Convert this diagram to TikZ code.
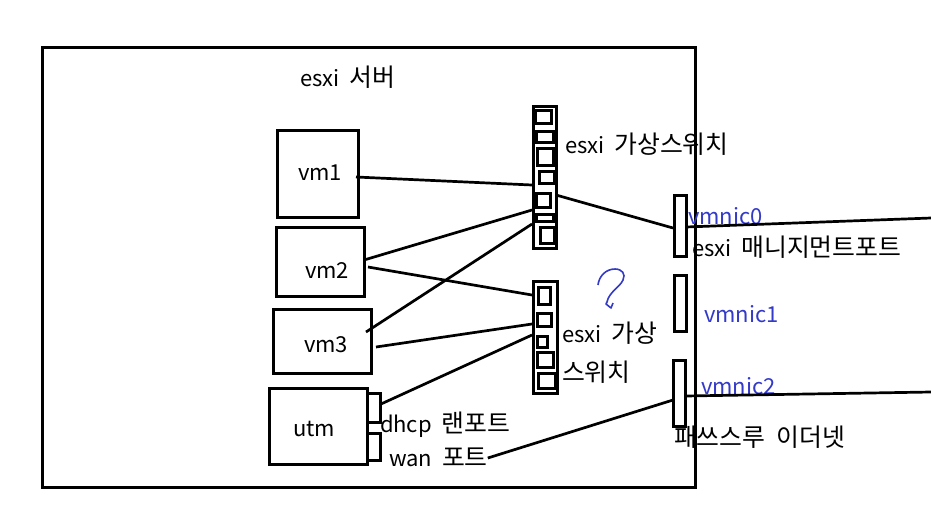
\documentclass[tikz,border=0pt]{standalone}
\usepackage{fontspec}
\setmainfont[WordSpace=2]{Noto Sans CJK KR}
\newfontfamily\kofont[Scale=1.13,WordSpace=2]{Noto Sans CJK KR}
\newcommand{\KO}[1]{{\kofont #1}}
\usetikzlibrary{calc}
\definecolor{nicblue}{RGB}{52,58,200}
\tikzset{
  x=1pt,y=-1pt,
  hbox/.style={draw=black,line width=3pt,outer sep=0pt},
  link/.style={draw=black,line width=2.7pt},
  lbl/.style={anchor=west,inner sep=0pt,outer sep=0pt,font=\fontsize{22}{24}\selectfont,text height=19pt,text depth=2pt,text=black},
  nic/.style={lbl,text=nicblue},
}
\newcommand{\pbox}[5]{\node[hbox,inner sep=0pt,minimum width={(#4-#2)*1pt},minimum height={(#5-#3)*1pt},anchor=north west] (#1) at (#2,#3) {};}
\begin{document}
\begin{tikzpicture}
\useasboundingbox (0,0) rectangle (931,515);
\fill[white] (0,0) rectangle (931,515);
% server frame
\pbox{server}{42}{47}{695}{487}
% vms
\pbox{vmone}{277}{130}{358}{217}
\pbox{vmtwo}{276}{227}{364}{296}
\pbox{vmthree}{273}{309}{371}{373}
\pbox{utm}{269}{388}{367}{464}
\pbox{lanport}{367}{393}{380}{422}
\pbox{wanport}{367}{433}{380}{460}
% switch 1
\pbox{swa}{533}{106}{556}{248}
\pbox{a1}{535}{110}{551}{123}
\pbox{a2}{536}{131}{553}{142}
\pbox{a3}{537}{148}{553}{165}
\pbox{a4}{539}{171}{554}{183}
\pbox{a5}{536}{193}{550}{207}
\pbox{a6}{536}{214}{553}{221}
\pbox{a7}{540}{227}{554}{243}
% switch 2
\pbox{swb}{533}{281}{557}{393}
\pbox{b1}{538}{287}{550}{304}
\pbox{b2}{537}{313}{551}{326}
\pbox{b3}{537}{336}{547}{347}
\pbox{b4}{537}{352}{553}{367}
\pbox{b5}{538}{373}{555}{388}
% nics
\pbox{nica}{674}{195}{686}{256}
\pbox{nicb}{674}{275}{686}{331}
\pbox{nicc}{673}{360}{685}{426}
% free ends
\coordinate (outa) at (931,218);
\coordinate (outc) at (931,392);
% labels
\node[lbl] (tserver) at (300,78) {esxi \KO{서버}};
\node[lbl] (tswa) at (565,145) {esxi \KO{가상스위치}};
\node[lbl] (tvma) at (298,172) {vm1};
\node[lbl] (tvmb) at (305,270) {vm2};
\node[lbl] (tvmc) at (304,344) {vm3};
\node[lbl] (tutm) at (293,428) {utm};
\node[lbl] (tlan) at (380,424) {dhcp \KO{랜포트}};
\node[lbl] (twan) at (389,458) {wan \KO{포트}};
\node[lbl] (tmgmt) at (692,248) {esxi \KO{매니지먼트포트}};
\node[nic] (tnica) at (688,216) {vmnic0};
\node[nic] (tnicb) at (704,314) {vmnic1};
\node[nic] (tnicc) at (701,386) {vmnic2};
\node[lbl] (tpass) at (674,438) {\KO{패쓰스루 이더넷}};
\node[lbl] (tswba) at (562,334) {esxi \KO{가상}};
\node[lbl] (tswbb) at (562,373) {\KO{스위치}};
% connectors
\path[link] ([shift={(-2,3.5)}]vmone.east) -- ([shift={(-1,8)}]swa.west);
\path[link] ([shift={(0,-1.5)}]vmtwo.east) -- ([shift={(-1,33)}]swa.west);
\path[link] ([shift={(4,5.5)}]vmtwo.east) -- ([shift={(-1,14)}]swb.north west);
\path[link] ([shift={(-5,-9)}]vmthree.east) -- ([shift={(-1,47)}]swa.west);
\path[link] ([shift={(5,6)}]vmthree.east) -- ([shift={(-1,-13)}]swb.west);
\path[link] ([shift={(1,-3.5)}]lanport.east) -- ([shift={(-1,-2)}]swb.west);
\path[link] ([shift={(0,18)}]swa.east) -- ([shift={(-1,2.5)}]nica.west);
\path[link] (twan.east) -- ([shift={(0,7)}]nicc.west);
\path[link] ([shift={(0,1.5)}]nica.east) -- (outa);
\path[link] ([shift={(0,3)}]nicc.east) -- (outc);
% question mark
\draw[nicblue,line width=1.6pt,line join=round] (598,285) .. controls (599,276) and (606,269) .. (615,269)
  .. controls (622,269) and (626,274) .. (623,280) .. controls (620,287) and (609,292) .. (607,302)
  -- (606,304) -- (611,308) -- (613,303);
\end{tikzpicture}
\end{document}
